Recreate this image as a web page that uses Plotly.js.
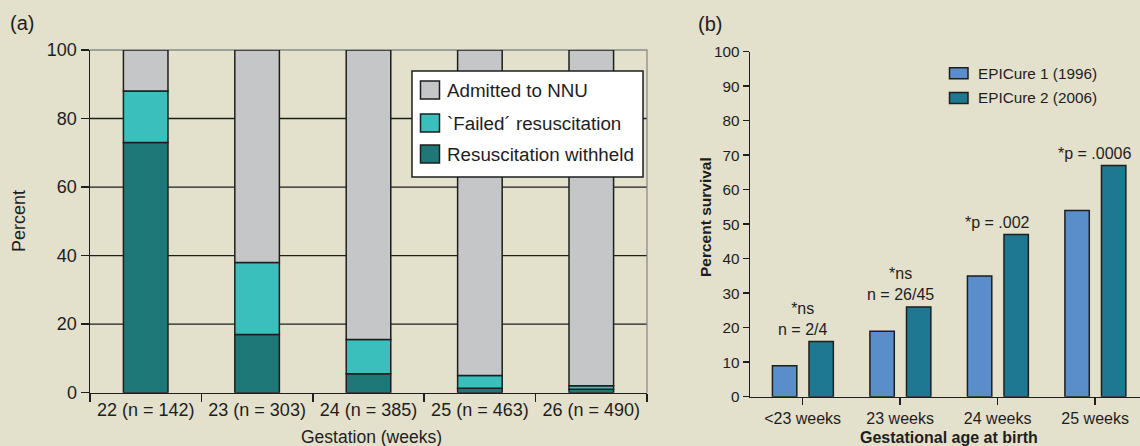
<!DOCTYPE html>
<html>
<head>
<meta charset="utf-8">
<script src="https://cdn.plot.ly/plotly-3.0.1.min.js"></script>
<style>
  html, body { margin: 0; padding: 0; background: #e3e0cb; }
  #chart { width: 1140px; height: 446px; }
</style>
</head>
<body>
<div id="chart"></div>
<script>
// ---------- Data ----------
const gestCategories = ["22 (n = 142)", "23 (n = 303)", "24 (n = 385)", "25 (n = 463)", "26 (n = 490)"];
const resusWithheld = [73, 17, 5.5, 1.3, 1];
const failedResus   = [15, 21, 10, 3.7, 1];
const admittedNNU   = [12, 62, 84.5, 95, 98];
const panelASeriesNames = ["Admitted to NNU", "`Failed\u00b4 resuscitation", "Resuscitation withheld"];
const panelAGridValues = [20, 40, 60, 80];

const ageCategories = ["<23 weeks", "23 weeks", "24 weeks", "25 weeks"];
const epicure1 = [9, 19, 35, 54];
const epicure2 = [16, 26, 47, 67];
const panelBSeriesNames = ["EPICure 1 (1996)", "EPICure 2 (2006)"];
const sigLabels = ["*ns<br>n = 2/4", "*ns<br>n = 26/45", "*p = .002", "*p = .0006"];

// ---------- Styles ----------
const BG = "#e3e0cb";
const INK = "#1e1e1e";
const FONT = "Liberation Sans, Arial, Helvetica, sans-serif";
const cGrey = "#c5c6c8", cLightTeal = "#3bbfbd", cDarkTeal = "#1f7878";
const cBlue = "#5a8ecb", cTeal2 = "#1e7891";
const W = 1140, H = 446;
const px = x => x / W;
const py = y => 1 - y / H;

// cumulative bases for stacking
const baseFailed = resusWithheld.slice();
const baseAdmitted = resusWithheld.map((v, i) => v + failedResus[i]);

const barLine = { color: INK, width: 1.5 };
const traces = [
  { type: "bar", x: gestCategories, y: resusWithheld, base: 0, width: 0.4, offset: -0.2,
    marker: { color: cDarkTeal, line: barLine }, xaxis: "x", yaxis: "y", name: panelASeriesNames[2], hoverinfo: "skip" },
  { type: "bar", x: gestCategories, y: failedResus, base: baseFailed, width: 0.4, offset: -0.2,
    marker: { color: cLightTeal, line: barLine }, xaxis: "x", yaxis: "y", name: panelASeriesNames[1], hoverinfo: "skip" },
  { type: "bar", x: gestCategories, y: admittedNNU, base: baseAdmitted, width: 0.4, offset: -0.2,
    marker: { color: cGrey, line: barLine }, xaxis: "x", yaxis: "y", name: panelASeriesNames[0], hoverinfo: "skip" },
  { type: "bar", x: ageCategories, y: epicure1, base: 0, width: 0.25, offset: -0.31,
    marker: { color: cBlue, line: barLine }, xaxis: "x2", yaxis: "y2", name: panelBSeriesNames[0], hoverinfo: "skip" },
  { type: "bar", x: ageCategories, y: epicure2, base: 0, width: 0.25, offset: 0.065,
    marker: { color: cTeal2, line: barLine }, xaxis: "x2", yaxis: "y2", name: panelBSeriesNames[1], hoverinfo: "skip" }
];

const shapes = [];
// horizontal gridlines of panel a (below bars)
panelAGridValues.forEach(v => {
  shapes.push({ type: "line", xref: "x domain", yref: "y", x0: 0, x1: 1, y0: v, y1: v, layer: "below",
    line: { color: "#1e1e1e", width: 1.4 } });
});
// grey frame (top + right) of panel a
shapes.push({ type: "path", xref: "paper", yref: "paper", layer: "below",
  path: `M ${px(90)} ${py(50)} L ${px(647)} ${py(50)} L ${px(647)} ${py(392.7)}`,
  line: { color: "#8a8a8a", width: 1.3 } });
// legend box panel a
shapes.push({ type: "rect", xref: "paper", yref: "paper", layer: "above",
  x0: px(412), x1: px(643), y0: py(177), y1: py(71),
  fillcolor: "#ffffff", line: { color: INK, width: 1.5 } });

const annotations = [];
// legend a entries
const legAColors = [cGrey, cLightTeal, cDarkTeal];
const legARows = [90, 123, 154];
panelASeriesNames.forEach((nm, i) => {
  shapes.push({ type: "rect", xref: "paper", yref: "paper", layer: "above",
    x0: px(420.5), x1: px(439.5), y0: py(legARows[i] + 9), y1: py(legARows[i] - 9),
    fillcolor: legAColors[i], line: { color: INK, width: 1.5 } });
  annotations.push({ xref: "paper", yref: "paper", x: px(445), y: py(legARows[i]),
    xanchor: "left", yanchor: "middle", showarrow: false, text: nm,
    font: { family: FONT, size: 18.8, color: INK } });
});
// legend b entries
const legBColors = [cBlue, cTeal2];
const legBRows = [73.3, 98];
panelBSeriesNames.forEach((nm, i) => {
  shapes.push({ type: "rect", xref: "paper", yref: "paper", layer: "above",
    x0: px(949.5), x1: px(968), y0: py(legBRows[i] + 5.5), y1: py(legBRows[i] - 5.5),
    fillcolor: legBColors[i], line: { color: INK, width: 1.5 } });
  annotations.push({ xref: "paper", yref: "paper", x: px(976), y: py(legBRows[i]),
    xanchor: "left", yanchor: "middle", showarrow: false, text: nm,
    font: { family: FONT, size: 15.3, color: INK } });
});
// significance labels
ageCategories.forEach((c, i) => {
  annotations.push({ xref: "x2", yref: "y2", x: c, y: Math.max(epicure1[i], epicure2[i]),
    xanchor: "center", yanchor: "bottom", yshift: 2, showarrow: false, text: sigLabels[i],
    font: { family: FONT, size: 16, color: INK } });
});
// titles / panel labels
annotations.push(
  { xref: "paper", yref: "paper", x: px(22), y: py(23), text: "(a)", showarrow: false,
    xanchor: "center", yanchor: "middle", font: { family: FONT, size: 20, color: INK } },
  { xref: "paper", yref: "paper", x: px(710), y: py(24), text: "(b)", showarrow: false,
    xanchor: "center", yanchor: "middle", font: { family: FONT, size: 20, color: INK } },
  { xref: "paper", yref: "paper", x: px(19), y: py(221), text: "Percent", textangle: -90, showarrow: false,
    xanchor: "center", yanchor: "middle", font: { family: FONT, size: 18, color: INK } },
  { xref: "paper", yref: "paper", x: px(371), y: py(437), text: "Gestation (weeks)", showarrow: false,
    xanchor: "center", yanchor: "middle", font: { family: FONT, size: 17.5, color: INK } },
  { xref: "paper", yref: "paper", x: px(706), y: py(217), text: "<b>Percent survival</b>", textangle: -90, showarrow: false,
    xanchor: "center", yanchor: "middle", font: { family: FONT, size: 15.5, color: INK } },
  { xref: "paper", yref: "paper", x: px(949), y: py(437), text: "<b>Gestational age at birth</b>", showarrow: false,
    xanchor: "center", yanchor: "middle", font: { family: FONT, size: 16, color: INK } }
);

const layout = {
  width: W, height: H,
  margin: { l: 0, r: 0, t: 0, b: 0 },
  paper_bgcolor: BG, plot_bgcolor: BG,
  showlegend: false,
  barmode: "overlay",
  font: { family: FONT, color: INK },
  xaxis: {
    domain: [px(90), px(647)], anchor: "y", type: "category", range: [-0.5, 4.5],
    tickson: "boundaries", ticks: "outside", ticklen: 8, tickwidth: 1.5, tickcolor: INK,
    showline: true, linecolor: INK, linewidth: 1.5, showgrid: false, automargin: false,
    tickfont: { family: FONT, size: 18, color: INK }, fixedrange: true
  },
  yaxis: {
    domain: [py(392.7), py(50)], anchor: "x", range: [0, 100],
    tickvals: [0, 20, 40, 60, 80, 100], ticks: "outside", ticklen: 8, tickwidth: 1.5, tickcolor: INK,
    showline: true, linecolor: INK, linewidth: 1.5, showgrid: false,
    zeroline: false, automargin: false,
    tickfont: { family: FONT, size: 18, color: INK }, fixedrange: true
  },
  xaxis2: {
    domain: [px(750), 1], anchor: "y2", type: "category", range: [-0.54, 3.46],
    ticks: "outside", ticklen: 7, tickwidth: 1.5, tickcolor: INK,
    showline: true, linecolor: INK, linewidth: 1.5, showgrid: false, automargin: false,
    tickfont: { family: FONT, size: 16, color: INK }, fixedrange: true
  },
  yaxis2: {
    domain: [py(396.7), py(51.7)], anchor: "x2", range: [0, 100], dtick: 10,
    ticks: "outside", ticklen: 6, tickwidth: 1.5, tickcolor: INK,
    showline: true, linecolor: INK, linewidth: 1.5, showgrid: false, zeroline: false, automargin: false,
    tickfont: { family: FONT, size: 15.3, color: INK }, fixedrange: true
  },
  shapes: shapes,
  annotations: annotations
};

Plotly.newPlot("chart", traces, layout, { staticPlot: true, displayModeBar: false });
</script>
</body>
</html>
